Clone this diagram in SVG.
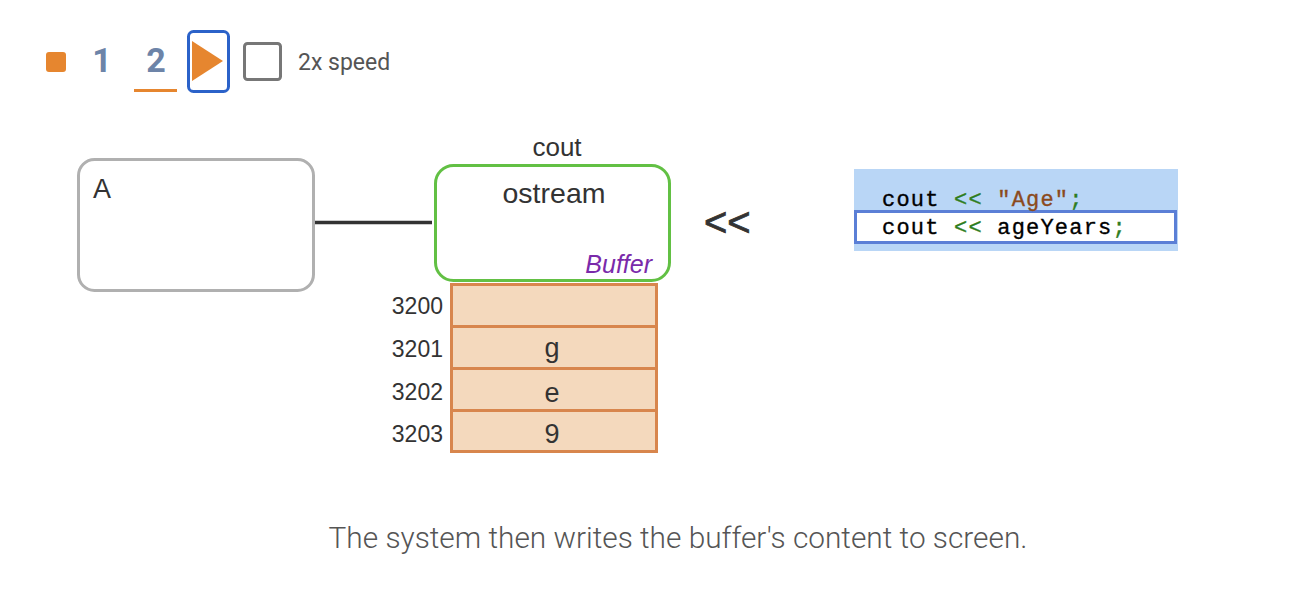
<svg xmlns="http://www.w3.org/2000/svg" width="1300" height="616" viewBox="0 0 1300 616">
<style>
.t{font-family:"Liberation Sans",Arial,sans-serif;fill:#333}
.r{font-family:Roboto,"Liberation Sans",sans-serif}
.mono{font-family:"Liberation Mono","Courier New",monospace;font-size:22px;letter-spacing:1.2px;stroke-width:0.35px}
.k{fill:#000;stroke:#000}
.gr{fill:#2e7d1e;stroke:#2e7d1e}
.st{fill:#8b4a1c;stroke:#8b4a1c}
.cell{fill:#f4d9bd;stroke:#d8864d;stroke-width:3}
.lbl{font-size:23px;text-anchor:end}
.ch{font-size:27px;text-anchor:middle}
</style>
<rect width="1300" height="616" fill="#fff"/>
<g id="controls">
<rect x="46" y="52" width="20" height="20" rx="3" fill="#e6862f"/>
<text class="r" x="102" y="72" font-size="34" font-weight="bold" fill="#6d84a8" text-anchor="middle">1</text>
<text class="r" x="156" y="72" font-size="34" font-weight="bold" fill="#6d84a8" text-anchor="middle">2</text>
<rect x="134" y="89" width="43" height="3" fill="#e6862f"/>
<rect x="188.5" y="31.5" width="40" height="60" rx="5" fill="#fff" stroke="#2b62c9" stroke-width="3"/>
<polygon points="192,41 223,61 192,81" fill="#e6862f"/>
<rect x="244.5" y="43.5" width="36" height="36" rx="3" fill="#fff" stroke="#777" stroke-width="3"/>
<text class="r" x="298" y="70" font-size="23" fill="#555">2x speed</text>
</g>
<g id="connectors">
<line x1="315" y1="222.5" x2="432" y2="222.5" stroke="#333" stroke-width="3.5"/>
</g>
<g id="nodeA">
<rect x="78.5" y="159.5" width="235" height="131" rx="16" fill="#fff" stroke="#b0b0b0" stroke-width="3"/>
<text class="t" x="93" y="198" font-size="27">A</text>
</g>
<g id="cout">
<text class="t" x="557" y="156" font-size="26" text-anchor="middle">cout</text>
<rect x="435.5" y="165.5" width="234" height="115" rx="18" fill="#fff" stroke="#62c044" stroke-width="3"/>
<text class="t" x="554" y="203" font-size="28.5" text-anchor="middle">ostream</text>
<text x="652" y="273" font-size="25" font-style="italic" fill="#7a2aaa" text-anchor="end" font-family="Liberation Sans,Arial,sans-serif">Buffer</text>
</g>
<g id="buffer">
<rect class="cell" x="451.5" y="284.5" width="205" height="42"/>
<rect class="cell" x="451.5" y="326.5" width="205" height="42"/>
<rect class="cell" x="451.5" y="368.5" width="205" height="42"/>
<rect class="cell" x="451.5" y="410.5" width="205" height="41"/>
<text class="t lbl" x="443" y="314">3200</text>
<text class="t lbl" x="443" y="357">3201</text>
<text class="t lbl" x="443" y="400">3202</text>
<text class="t lbl" x="443" y="442">3203</text>
<text class="t ch" x="552" y="357">g</text>
<text class="t ch" x="552" y="402">e</text>
<text class="t ch" x="552" y="443">9</text>
</g>
<g id="operator">
<text class="t" x="704" y="236" font-size="40" stroke="#333" stroke-width="0.8">&lt;&lt;</text>
</g>
<g id="code">
<rect x="854" y="169" width="324" height="82" fill="#b9d6f6"/>
<rect x="855.5" y="211.5" width="320" height="31" fill="#fff" stroke="#5b7fd6" stroke-width="3"/>
<text class="mono" x="882" y="206"><tspan class="k">cout </tspan><tspan class="gr">&lt;&lt;</tspan><tspan class="st"> "Age"</tspan><tspan class="gr">;</tspan></text>
<text class="mono" x="882" y="234"><tspan class="k">cout </tspan><tspan class="gr">&lt;&lt;</tspan><tspan class="k"> ageYears</tspan><tspan class="gr">;</tspan></text>
</g>
<g id="caption">
<text class="r" x="678" y="548" font-size="29.8" font-weight="300" fill="#555" text-anchor="middle">The system then writes the buffer's content to screen.</text>
</g>
</svg>
